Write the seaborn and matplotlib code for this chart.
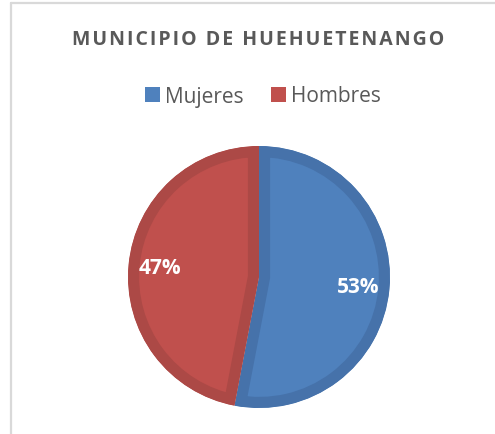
import matplotlib
matplotlib.use("Agg")
import matplotlib.pyplot as plt
import seaborn as sns
from matplotlib.lines import Line2D
from matplotlib.patches import Patch

# data
labels = ["Mujeres", "Hombres"]
values = [53, 47]
fill_colors = ["#4F81BD", "#C0504D"]
ring_colors = ["#4672AA", "#AC4946"]
title = "MUNICIPIO DE HUEHUETENANGO"

sns.set_style("white")
plt.rcParams["font.family"] = ["Open Sans", "DejaVu Sans"]

fig = plt.figure(figsize=(4.95, 4.35), dpi=100)

# chart border (top and left only visible)
fig.add_artist(Line2D([10.5 / 495, 1.0], [1 - 3.5 / 435, 1 - 3.5 / 435],
                      color="#D9D9D9", lw=1.6, transform=fig.transFigure))
fig.add_artist(Line2D([10.5 / 495, 10.5 / 495], [1 - 3.5 / 435, 0.0],
                      color="#D9D9D9", lw=1.6, transform=fig.transFigure))

ax = fig.add_axes([128 / 495, (435 - 278 - 131) / 435, 262 / 495, 262 / 435])
palette = sns.color_palette(fill_colors)
wedges, texts, autotexts = ax.pie(
    values, colors=palette, startangle=90, counterclock=False,
    autopct="%1.0f%%", pctdistance=0.76,
    textprops=dict(color="white", fontsize=15, fontweight="bold"),
)
# darker ring drawn inside each slice
for w, rc in zip(wedges, ring_colors):
    w.set_edgecolor(rc)
    w.set_linewidth(16)
    w.set_clip_path(w)
    w.set_clip_on(True)
ax.set_xlim(-1, 1)
ax.set_ylim(-1, 1)
ax.set_aspect("equal")
ax.axis("off")

spaced = "\u200a".join(title)
fig.text(258 / 495, 1 - 40 / 435, spaced, ha="center", va="center",
         fontsize=14, fontweight="bold", color="#595959")

handles = [Patch(facecolor=c, edgecolor="none") for c in fill_colors]
fig.legend(handles, labels, loc="center", bbox_to_anchor=(263 / 495, 1 - 97 / 435),
           ncol=2, frameon=False, fontsize=15, labelcolor="#595959",
           handlelength=0.7, handleheight=0.7, handletextpad=0.25,
           columnspacing=1.3)

fig.savefig("out.png", dpi=100)
